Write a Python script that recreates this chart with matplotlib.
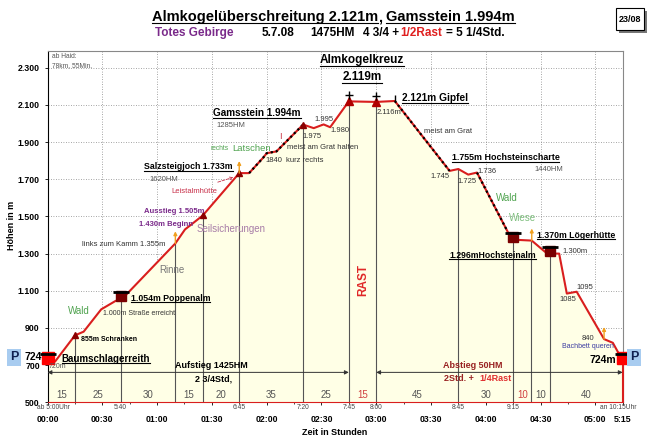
import matplotlib
matplotlib.use('Agg')
import matplotlib.pyplot as plt
import matplotlib.transforms as mtransforms
from matplotlib.lines import Line2D
from matplotlib.patches import Rectangle
import numpy as np

plt.rcParams['font.family'] = ['Liberation Sans', 'DejaVu Sans']

# Hoehenprofil: Gehzeit in Stunden, Hoehe in m
zeit = [0.0, 0.07, 0.25, 0.33, 0.49, 0.62, 0.667, 0.72, 1.167, 1.255, 1.417, 1.75, 1.84,
        1.97, 2.0, 2.09, 2.333, 2.43, 2.52, 2.58, 2.75, 3.0, 3.17, 3.67, 3.75, 3.84, 3.92,
        4.22, 4.25, 4.42, 4.54, 4.583, 4.67, 4.74, 4.83, 5.08, 5.16, 5.25]
hoehe = [724, 720, 860, 880, 1000, 1045, 1054, 1080, 1355, 1430, 1505, 1733, 1733,
         1817, 1840, 1850, 1994, 1975, 1995, 1980, 2119, 2116, 2121, 1745, 1755, 1725, 1736,
         1395, 1375, 1370, 1310, 1300, 1300, 1085, 1095, 840, 820, 724]

# Wegpunkte (senkrechte Linien) und Gehzeiten dazwischen in Minuten
wp_zeit = [0.25, 0.667, 1.167, 1.417, 1.75, 2.333, 2.75, 3.0, 3.75, 4.25, 4.417, 4.583]
dauer = [15, 25, 30, 15, 20, 35, 25, 15, 45, 30, 10, 10, 40]
dauer_rot = [7, 10]

uhr_zeit = [0.055, 0.667, 1.75, 2.333, 2.75, 3.0, 3.75, 4.25, 5.21]
uhr_text = ['ab 5:00Uhr', '5:40', '6:45', '7:20', '7:45', '8:00', '8:45', '9:15', 'an 10:15Uhr']

x_ticks = [0, 0.5, 1, 1.5, 2, 2.5, 3, 3.5, 4, 4.5, 5, 5.25]
x_labels = ['00:00', '00:30', '01:00', '01:30', '02:00', '02:30', '03:00', '03:30',
            '04:00', '04:30', '05:00', '5:15']
y_ticks = [500, 700, 900, 1100, 1300, 1500, 1700, 1900, 2100, 2300]
y_labels = ['500', '700', '900', '1.100', '1.300', '1.500', '1.700', '1.900', '2.100', '2.300']

grat = [(1.84, 2.333), (3.17, 3.67), (3.92, 4.19)]
huette_zeit = [0.667, 4.25, 4.583]
auto_zeit = [0.0, 5.25]
pfeil_zeit = [1.167, 1.75, 4.42, 5.08]
kreuz_zeit = [2.75, 3.0]
punkt_zeit = [0.25, 1.417, 1.75, 2.333]

ROT = '#D91E1E'
GRUEN = '#4FA34F'
LILA = '#7A2A8A'

zeit = np.array(zeit)
hoehe = np.array(hoehe)
def h_at(t):
    return np.interp(t, zeit, hoehe)

fig = plt.figure(figsize=(6.5, 4.4), dpi=100)
W, H = 650.0, 440.0
ax = fig.add_axes([47.5 / W, 1 - 402.3 / H, (622.7 - 47.5) / W, (402.3 - 51) / H])
ax.set_xlim(0, 5.25)
ax.set_ylim(500, 2390)

ax.set_axisbelow(True)
ax.grid(True, color='#888888', linestyle=(0, (1, 2)), linewidth=0.6)
ax.fill_between(zeit, 500, hoehe, facecolor='#FFFFE6', edgecolor='none', zorder=1)

# senkrechte Linien an den Wegpunkten
ax.vlines(wp_zeit, 500, h_at(wp_zeit), color='#555555', linewidth=0.8, zorder=2)

ax.plot(zeit, hoehe, color=ROT, linewidth=1.5, zorder=3, solid_joinstyle='round')
ax.plot([5.25, 5.25], [500, 724], color=ROT, linewidth=1.5, zorder=3, clip_on=False)
for a, b in grat:
    m = (zeit > a) & (zeit < b)
    xs = np.concatenate([[a], zeit[m], [b]])
    ax.plot(xs, h_at(xs), color='black', linewidth=1.6, linestyle=(0, (1, 1.3)), zorder=4)

# Markierungen
up = mtransforms.offset_copy(ax.transData, fig=fig, y=3, units='dots')
roof = mtransforms.offset_copy(ax.transData, fig=fig, y=7, units='dots')
ax.plot(huette_zeit, h_at(huette_zeit), 's', color='#7A0000', ms=7, transform=up, zorder=5, clip_on=False)
ax.plot(huette_zeit, h_at(huette_zeit), '_', color='black', ms=12, mew=2, transform=roof, zorder=5, clip_on=False)
ax.plot(auto_zeit, h_at(auto_zeit), 's', color='#FF0000', ms=8, transform=up, zorder=5, clip_on=False)
ax.plot(auto_zeit, h_at(auto_zeit), '_', color='black', ms=12, mew=2, transform=roof, zorder=5, clip_on=False)
ax.plot(punkt_zeit, h_at(punkt_zeit), '^', color='#8B0000', ms=4, zorder=5)
ax.plot(kreuz_zeit, h_at(kreuz_zeit), '^', color='#B00000', ms=6, zorder=5)
ax.plot(kreuz_zeit, h_at(kreuz_zeit) + 32, '+', color='black', ms=6, mew=1, zorder=5)
ax.plot([3.17], [2138], '|', color='black', ms=5, mew=1, zorder=5)
for t in pfeil_zeit:
    ax.annotate('', xy=(t, h_at(t) + 65), xytext=(t, h_at(t)),
                arrowprops=dict(arrowstyle='-|>', color='#F0A020', lw=1.0, mutation_scale=5,
                                shrinkA=0, shrinkB=0), zorder=5)

# Gehzeiten unten
grenzen = [0] + wp_zeit + [5.25]
for i, d in enumerate(dauer):
    xm = (grenzen[i] + grenzen[i + 1]) / 2
    ax.text(xm, 540, str(d), ha='center', va='center', fontsize=7,
            color='#D04040' if i in dauer_rot else '#555555', zorder=6)

# Aufstieg / Abstieg Pfeile
pfeil = dict(arrowstyle='<|-|>', color='#333333', lw=0.7, mutation_scale=6, shrinkA=0, shrinkB=0)
ax.annotate('', xy=(0, 661), xytext=(2.75, 661), arrowprops=pfeil, zorder=6)
ax.annotate('', xy=(3.0, 661), xytext=(5.25, 661), arrowprops=pfeil, zorder=6)
ax.text(1.5, 697, 'Aufstieg 1425HM', ha='center', va='center', fontsize=6.5, fontweight='bold')
ax.text(1.52, 628, '2 3/4Std,', ha='center', va='center', fontsize=6.5, fontweight='bold')
ax.text(3.88, 697, 'Abstieg 50HM', ha='center', va='center', fontsize=6.5, fontweight='bold', color='#992222')
ax.text(3.62, 628, '2Std. +', ha='left', va='center', fontsize=6.5, fontweight='bold', color='#992222')
ax.text(3.94, 628, '1/4Rast', ha='left', va='center', fontsize=6.5, fontweight='bold', color='#E03030')
ax.text(2.88, 1158, 'RAST', rotation=90, ha='center', va='center', fontsize=8.5, fontweight='bold', color='#E02828')

unterstrichen = []
def label(x, y, s, size=5.5, color='#333333', bold=False, ul=False, **kw):
    t = ax.text(x, y, s, fontsize=size, color=color, ha=kw.pop('ha', 'left'), va=kw.pop('va', 'center'),
                fontweight='bold' if bold else 'normal', zorder=6, clip_on=False, **kw)
    if ul:
        unterstrichen.append(t)
    return t

label(0.04, 2380, 'ab Haid:\n78km, 55Min.', size=4.8, color='#555555', va='top', linespacing=1.5)
label(2.87, 2340, 'Almkogelkreuz', size=8.5, color='black', bold=True, ul=True, ha='center')
label(2.87, 2250, '2.119m', size=8.5, color='black', bold=True, ul=True, ha='center')
label(3.237, 2137, '2.121m Gipfel', size=7.3, color='black', bold=True, ul=True)
label(3.004, 2059, '2.116m')
label(3.435, 1955, 'meist am Grat')
label(1.513, 2054, 'Gamsstein 1.994m', size=7.2, color='black', bold=True, ul=True)
label(1.544, 1991, '1285HM', color='#555555')
label(2.44, 2021, '1.995')
label(2.328, 1932, '1.975')
label(2.584, 1964, '1.980')
label(2.11, 1932, 'I', size=6.5, color='#C83040')
label(1.49, 1866, 'rechts', size=4.8, color=GRUEN)
label(1.69, 1866, 'Latschen', size=6.8, color=GRUEN)
label(2.188, 1869, 'meist am Grat halten')
label(1.994, 1803, '1840')
label(2.173, 1803, 'kurz rechts')
label(0.883, 1767, 'Salzsteigjoch 1.733m', size=6.3, color='black', bold=True, ul=True)
label(0.929, 1699, '1620HM', color='#555555')
label(1.127, 1636, 'Leistalmhütte', color='#C8304A')
ax.annotate('', xy=(1.72, 1715), xytext=(1.53, 1680),
            arrowprops=dict(arrowstyle='->', color='#C8304A', lw=0.6, linestyle='--', mutation_scale=5), zorder=6)
label(0.883, 1528, 'Ausstieg 1.505m', color=LILA, bold=True)
label(0.835, 1459, '1.430m Beginn', color=LILA, bold=True)
label(1.361, 1435, 'Seilsicherungen', size=7, color='#A77CA7')
label(0.312, 1349, 'links zum Kamm 1.355m')
label(1.02, 1211, 'Rinne', size=7, color='#777777')
label(0.184, 991, 'Wald', size=7, color=GRUEN)
label(0.759, 1059, '1.054m Poppenalm', size=6.3, color='black', bold=True, ul=True)
label(0.509, 976, '1.000m Straße erreicht', size=5)
label(0.303, 840, '855m Schranken', size=5, color='black', bold=True)
label(0.13, 733, 'Baumschlagerreith', size=7, color='black', bold=True, ul=True)
label(0.014, 695, '720m', size=5, color='#555555')
label(-0.055, 745, '724', size=7.5, color='black', bold=True, ha='right')
label(3.688, 1815, '1.755m Hochsteinscharte', size=6.4, color='black', bold=True, ul=True)
label(4.448, 1753, '1440HM', color='#555555')
label(3.496, 1713, '1.745')
label(3.739, 1686, '1.725')
label(3.922, 1743, '1.736')
label(4.089, 1597, 'Wald', size=7, color=GRUEN)
label(4.211, 1489, 'Wiese', size=7, color='#7FBF7F')
label(4.464, 1399, '1.370m Lögerhütte', size=6.3, color='black', bold=True, ul=True)
label(3.666, 1292, '1.296mHochsteinalm', size=6.2, color='black', bold=True, ul=True)
label(4.697, 1310, '1.300m')
label(4.828, 1116, '1095')
label(4.676, 1055, '1085')
label(4.874, 844, '840')
label(4.692, 799, 'Bachbett queren', size=5, color='#3A3AA0')
label(4.95, 727, '724m', size=7.5, color='black', bold=True)

# Achsen
ax.set_xticks(x_ticks, x_labels)
ax.set_yticks(y_ticks, y_labels)
ax.set_xticks(np.arange(0, 5.25, 0.25), minor=True)
ax.tick_params(axis='both', which='major', labelsize=6.3, length=2.5, width=0.6, pad=3)
ax.tick_params(axis='x', which='major', pad=6.5)
ax.tick_params(axis='x', which='minor', length=1.5, width=0.5)
for t in ax.get_xticklabels() + ax.get_yticklabels():
    t.set_fontweight('bold')
unter_achse = mtransforms.offset_copy(ax.get_xaxis_transform(), fig=fig, y=-1.5, units='dots')
for t, s in zip(uhr_zeit, uhr_text):
    ax.text(t, 0, s, transform=unter_achse, ha='center', va='top',
            fontsize=4.8, color='#444444', clip_on=False)
ax.spines['top'].set_color('#888888')
ax.spines['right'].set_color('#888888')
ax.spines['bottom'].set_color(ROT)
ax.spines['left'].set_color('black')

fig.text(12 / W, 1 - 225 / H, 'Höhen in m', rotation=90, ha='center', va='center', fontsize=6.5, fontweight='bold')
fig.text(335 / W, 1 - 432 / H, 'Zeit in Stunden', ha='center', va='center', fontsize=6.5, fontweight='bold')

# Parkplatz
for px in [14, 634]:
    fig.text(px / W, 1 - 357 / H, 'P', ha='center', va='center', fontsize=9, fontweight='bold', color='#102050',
             bbox=dict(boxstyle='square,pad=0.2', facecolor='#A8CCF0', edgecolor='none'))

# Titel
t1 = fig.text(152 / W, 1 - 17 / H, 'Almkogelüberschreitung 2.121m', ha='left', va='center', fontsize=10.5, fontweight='bold')
fig.text(378 / W, 1 - 17 / H, ',', ha='left', va='center', fontsize=10.5, fontweight='bold')
t2 = fig.text(386 / W, 1 - 17 / H, 'Gamsstein 1.994m', ha='left', va='center', fontsize=10.5, fontweight='bold')
unterstrichen += [t1, t2]
yy = 1 - 33 / H
fig.text(155 / W, yy, 'Totes Gebirge', ha='left', va='center', fontsize=8.5, fontweight='bold', color=LILA)
fig.text(262 / W, yy, '5.7.08', ha='left', va='center', fontsize=8.5, fontweight='bold')
fig.text(310 / W, yy, '1475HM', ha='left', va='center', fontsize=8.5, fontweight='bold')
fig.text(363 / W, yy, '4 3/4 +', ha='left', va='center', fontsize=8.5, fontweight='bold')
fig.text(400 / W, yy, '1/2Rast', ha='left', va='center', fontsize=8.5, fontweight='bold', color='#E02020')
fig.text(446 / W, yy, '= 5 1/4Std.', ha='left', va='center', fontsize=8.5, fontweight='bold')

fig.patches.append(Rectangle((619 / W, 1 - 33 / H), 28 / W, 22 / H, transform=fig.transFigure,
                             facecolor='#777777', edgecolor='none'))
fig.patches.append(Rectangle((616 / W, 1 - 30 / H), 28 / W, 22 / H, transform=fig.transFigure,
                             facecolor='white', edgecolor='black', linewidth=0.8))
fig.text(630 / W, 1 - 19 / H, '23/08', ha='center', va='center', fontsize=6.5, fontweight='bold')

# Unterstreichungen
fig.canvas.draw()
r = fig.canvas.get_renderer()
for t in unterstrichen:
    bb = t.get_window_extent(r)
    y = bb.y0 + 0.5
    fig.add_artist(Line2D([bb.x0, bb.x1], [y, y], transform=mtransforms.IdentityTransform(),
                          color='black', linewidth=0.8))

fig.savefig('out.png', dpi=100)
